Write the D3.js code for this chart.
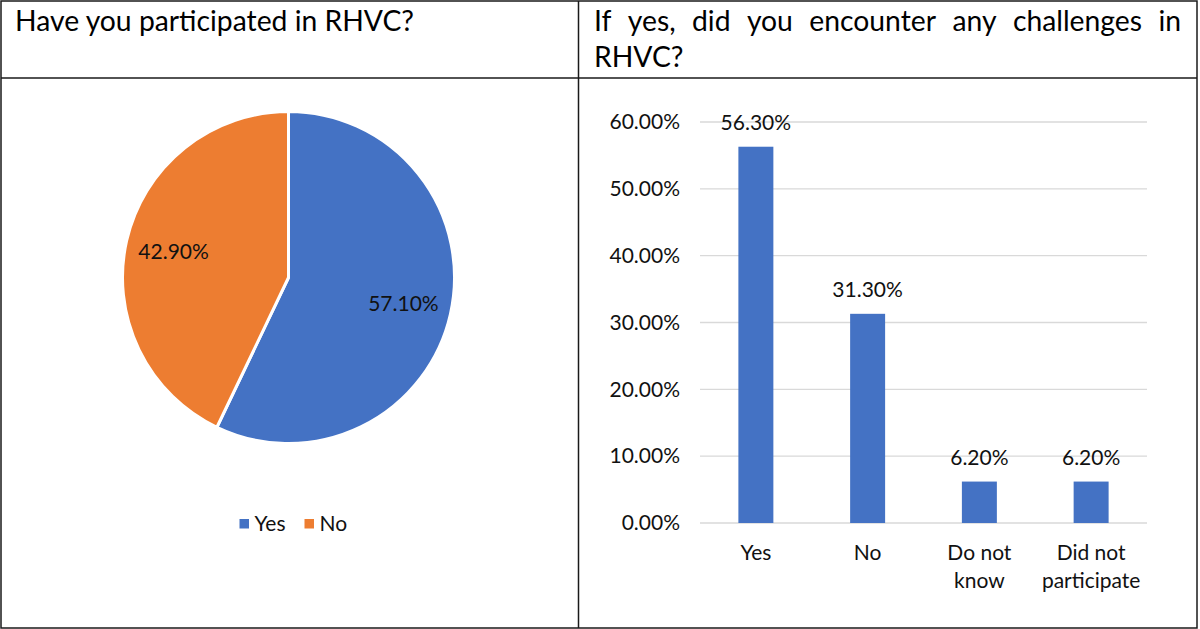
<!DOCTYPE html>
<html>
<head>
<meta charset="utf-8">
<script src="https://cdn.jsdelivr.net/npm/d3@7/dist/d3.min.js"></script>
<style>
  html, body { margin: 0; padding: 0; background: #fff; }
  svg { display: block; }
  text { font-family: Lato, "Noto Sans", sans-serif; }
</style>
</head>
<body>
<svg id="chart" width="1200" height="629"></svg>
<script>
// ---- data ----
const pieTitle = "Have you participated in RHVC?";
const barTitleLine1 = ["If", "yes,", "did", "you", "encounter", "any", "challenges", "in"];
const barTitleLine2 = "RHVC?";
const pieCategories = ["Yes", "No"];
const pieValues = [0.571, 0.429];
const barCategories = ["Yes", "No", "Do not know", "Did not participate"];
const barLabelLines = [["Yes"], ["No"], ["Do not", "know"], ["Did not", "participate"]];
const barValues = [0.563, 0.313, 0.062, 0.062];
const yTicks = [0, 0.1, 0.2, 0.3, 0.4, 0.5, 0.6];
const colors = ["#4472C4", "#ED7D31"];

const svg = d3.select("#chart");
const fmt = d3.format(".2%");
const fs = 21;          // chart text size
const hSize = 28.3;     // header text size
const ink = "#111";

// ---- table frame ----
const frame = svg.append("g").attr("stroke", "#1a1a1a").attr("stroke-width", 1.5).attr("fill", "none");
frame.append("rect").attr("x", 1).attr("y", 1).attr("width", 1196).attr("height", 627);
frame.append("line").attr("x1", 578.5).attr("x2", 578.5).attr("y1", 1).attr("y2", 628);
frame.append("line").attr("x1", 1).attr("x2", 1197).attr("y1", 78).attr("y2", 78);

// ---- headers ----
svg.append("text").attr("x", 15).attr("y", 31).attr("font-size", hSize).attr("fill", "#000").text(pieTitle);

// justified first line of right header
const jx0 = 594, jx1 = 1181;
const words = svg.append("g").attr("font-size", hSize).attr("fill", "#000");
const wEls = barTitleLine1.map(w => words.append("text").attr("y", 31).text(w));
const widths = wEls.map(t => t.node().getComputedTextLength());
const totalW = d3.sum(widths);
const gap = (jx1 - jx0 - totalW) / (barTitleLine1.length - 1);
let cx = jx0;
wEls.forEach((t, i) => { t.attr("x", cx); cx += widths[i] + gap; });
svg.append("text").attr("x", jx0).attr("y", 67).attr("font-size", hSize).attr("fill", "#000").text(barTitleLine2);

// ---- pie ----
const pcx = 288.5, pcy = 277.5, R = 166;
const pie = d3.pie().sort(null).startAngle(0).endAngle(2 * Math.PI)(pieValues);
const arc = d3.arc().innerRadius(0).outerRadius(R);
const labelArc = d3.arc().innerRadius(R * 0.71).outerRadius(R * 0.71);
const pg = svg.append("g").attr("transform", `translate(${pcx},${pcy})`);
pg.selectAll("path").data(pie).join("path")
  .attr("d", arc)
  .attr("fill", (d, i) => colors[i])
  .attr("stroke", "#fff").attr("stroke-width", 3).attr("stroke-linejoin", "round");
pg.selectAll("text.pl").data(pie).join("text")
  .attr("class", "pl")
  .attr("transform", d => `translate(${labelArc.centroid(d)})`)
  .attr("text-anchor", "middle").attr("dy", "0.35em")
  .attr("font-size", fs).attr("fill", ink)
  .text(d => fmt(d.data));

// legend
const leg = svg.append("g").attr("font-size", fs).attr("fill", ink);
const legX = [239.5, 304.5];
pieCategories.forEach((c, i) => {
  leg.append("rect").attr("x", legX[i]).attr("y", 519).attr("width", 9.5).attr("height", 9.5).attr("fill", colors[i]);
  leg.append("text").attr("x", legX[i] + 15).attr("y", 531).text(c);
});

// ---- bar chart ----
const x = d3.scaleBand().domain(barCategories).range([700, 1147]).paddingInner(0.687).paddingOuter(0.3435);
const y = d3.scaleLinear().domain([0, 0.6]).range([523, 122]);

const bg = svg.append("g");
// gridlines
bg.selectAll("line.grid").data(yTicks).join("line")
  .attr("class", "grid")
  .attr("x1", 700).attr("x2", 1147)
  .attr("y1", d => y(d)).attr("y2", d => y(d))
  .attr("stroke", "#d9d9d9").attr("stroke-width", 1.3);

// y axis labels via d3 axis
const yAxis = d3.axisLeft(y).tickValues(yTicks).tickFormat(fmt).tickSize(0).tickPadding(20);
const yg = svg.append("g").attr("transform", "translate(700,0)").call(yAxis);
yg.select(".domain").remove();
yg.selectAll("text").attr("font-size", fs).attr("fill", ink).attr("font-family", "Lato, 'Noto Sans', sans-serif");

// bars
bg.selectAll("rect.bar").data(barValues).join("rect")
  .attr("class", "bar")
  .attr("x", (d, i) => x(barCategories[i]))
  .attr("width", x.bandwidth())
  .attr("y", d => y(d))
  .attr("height", d => y(0) - y(d))
  .attr("fill", colors[0]);

// value labels
bg.selectAll("text.vl").data(barValues).join("text")
  .attr("class", "vl")
  .attr("x", (d, i) => x(barCategories[i]) + x.bandwidth() / 2)
  .attr("y", d => y(d) - 17)
  .attr("text-anchor", "middle").attr("font-size", fs).attr("fill", ink)
  .text(d => fmt(d));

// x labels
const xl = svg.append("g").attr("font-size", fs).attr("fill", ink).attr("text-anchor", "middle");
barCategories.forEach((c, i) => {
  const t = xl.append("text").attr("x", x(c) + x.bandwidth() / 2).attr("y", 560);
  barLabelLines[i].forEach((ln, j) => {
    t.append("tspan").attr("x", x(c) + x.bandwidth() / 2).attr("y", 560 + j * 28).text(ln);
  });
});
</script>
</body>
</html>
